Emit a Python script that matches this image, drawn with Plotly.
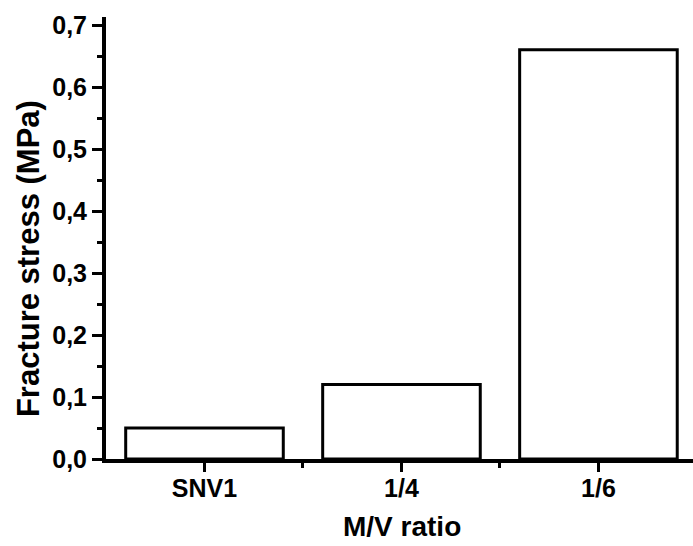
import plotly.graph_objects as go

categories = ["SNV1", "1/4", "1/6"]
fracture_stress = [0.05, 0.12, 0.66]
y_tick_values = [0.0, 0.1, 0.2, 0.3, 0.4, 0.5, 0.6, 0.7]

FONT = "Arial, 'Liberation Sans', sans-serif"
xpos = list(range(len(categories)))

fig = go.Figure(
    go.Bar(
        x=xpos,
        y=fracture_stress,
        width=0.8,
        marker=dict(color="white", line=dict(color="black", width=3)),
    )
)

fig.update_layout(
    width=693,
    height=546,
    paper_bgcolor="white",
    plot_bgcolor="white",
    separators=",.",
    margin=dict(l=106, r=0, t=17, b=87),
    showlegend=False,
    font=dict(family=FONT, color="black"),
    xaxis=dict(
        range=[-0.5, 2.48],
        automargin=False,
        tickmode="array",
        tickvals=xpos,
        ticktext=categories,
        ticks="outside",
        ticklen=9,
        tickwidth=3,
        tickcolor="black",
        ticklabelstandoff=-5,
        tickfont=dict(size=25, family=FONT, weight="bold"),
        minor=dict(
            tickmode="array",
            tickvals=[i + 0.5 for i in xpos[:-1]],
            ticks="outside",
            ticklen=5,
            tickwidth=3,
            tickcolor="black",
        ),
        showline=True,
        linecolor="black",
        linewidth=4,
        showgrid=False,
        zeroline=False,
    ),
    yaxis=dict(
        range=[0, 0.713],
        automargin=False,
        tickmode="array",
        tickvals=y_tick_values,
        tickformat=".1f",
        ticks="outside",
        ticklen=10,
        tickwidth=3,
        tickcolor="black",
        tickfont=dict(size=25, family=FONT, weight="bold"),
        minor=dict(
            dtick=0.05,
            tick0=0,
            ticks="outside",
            ticklen=5,
            tickwidth=3,
            tickcolor="black",
        ),
        showline=True,
        linecolor="black",
        linewidth=4,
        showgrid=False,
        zeroline=False,
    ),
    annotations=[
        dict(
            text="<b>Fracture stress (MPa)</b>",
            textangle=-90,
            xref="paper",
            yref="paper",
            x=-0.131,
            y=0.4525,
            xanchor="center",
            yanchor="middle",
            showarrow=False,
            font=dict(size=31, family=FONT, color="black"),
        ),
        dict(
            text="<b>M/V ratio</b>",
            xref="paper",
            yref="paper",
            x=0.504,
            y=-0.152,
            xanchor="center",
            yanchor="middle",
            showarrow=False,
            font=dict(size=28, family=FONT, color="black"),
        ),
    ],
)

fig.write_html(
    "out.html",
    config={"displayModeBar": False},
    post_script="document.body.style.margin='0';document.body.style.overflow='hidden';",
)
